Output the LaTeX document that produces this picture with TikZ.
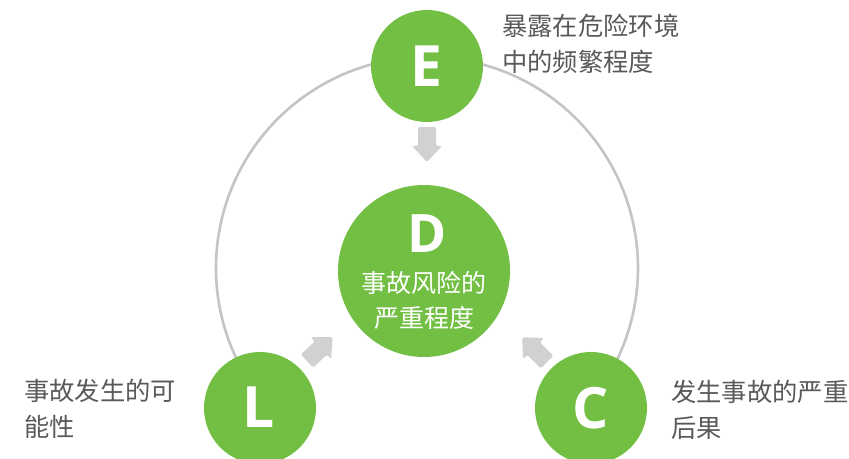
\documentclass[tikz,border=0pt]{standalone}
\usepackage{fontspec}
\newfontfamily\cjk{Noto Sans CJK SC}
\newfontfamily\lat{Open Sans}
\definecolor{leaf}{HTML}{72BF44}
\definecolor{ringgray}{HTML}{C4C4C6}
\definecolor{arrowgray}{HTML}{D0D1D3}
\definecolor{txtgray}{HTML}{595959}
\newcommand\blockarrowshape{%
  \fill[arrowgray, rounded corners=1.5pt] (0,-9) -- (19,-9) -- (19,-15) -- (35,0) -- (19,15) -- (19,9) -- (0,9) -- cycle;}
\begin{document}
\begin{tikzpicture}[x=1pt,y=1pt,
  ball/.style={circle, fill=leaf, inner sep=0pt, minimum size=#1},
  letter/.style={font=\lat\bfseries\fontsize{57}{57}\selectfont, text=white, inner sep=0pt},
  note/.style={font=\cjk\fontsize{25.3}{36}\selectfont, text=txtgray, align=left, inner sep=0pt, anchor=north west},
  inner/.style={font=\cjk\fontsize{25}{35}\selectfont, text=white, inner sep=0pt}]
\useasboundingbox (0,0) rectangle (849,458);
% ring
\coordinate (ringc) at (427,190);
\draw[ringgray, line width=2.6pt] ([shift={(210:211)}]ringc) arc[start angle=210, end angle=-30, radius=211];
% arrows
\begin{scope}[shift={(427,331)}, rotate=-90] \blockarrowshape \end{scope}
\begin{scope}[shift={(307,97)}, rotate=43] \blockarrowshape \end{scope}
\begin{scope}[shift={(547,96)}, rotate=135] \blockarrowshape \end{scope}
% circles
\node[ball=112pt] (E) at (427,392) {};
\node[ball=172pt] (D) at (424,187) {};
\node[ball=112pt] (L) at (260,50) {};
\node[ball=112pt] (C) at (591,50) {};
% letters
\node[letter] (Et) at (426,392) {E};
\node[letter, font=\lat\bfseries\fontsize{53}{53}\selectfont] (Dt) at (427,224) {D};
\node[letter] (Lt) at (259,51) {L};
\node[letter] (Ct) at (591,50) {C};
\node[inner, align=center] (Dl) at (424,158) {事故风险的\\严重程度};
% notes
\node[note] (En) at (502,444) {暴露在危险环境\\中的频繁程度};
\node[note] (Ln) at (24,79) {事故发生的可\\能性};
\node[note] (Cn) at (671,78) {发生事故的严重\\后果};
\end{tikzpicture}
\end{document}
